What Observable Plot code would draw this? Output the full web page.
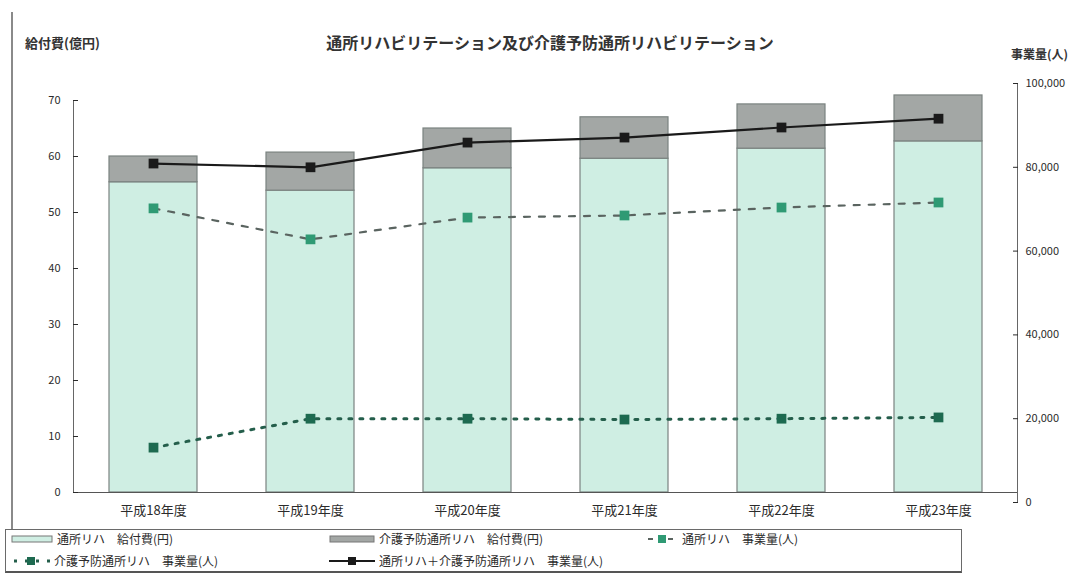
<!DOCTYPE html>
<html><head><meta charset="utf-8">
<script src="https://cdn.jsdelivr.net/npm/d3@7"></script>
<script src="https://cdn.jsdelivr.net/npm/@observablehq/plot@0.6"></script>
<style>
body{margin:0;background:#fff;font-family:"Noto Sans CJK JP","Noto Sans",sans-serif;}
#wrap{position:relative;width:1080px;height:581px;overflow:hidden;background:#fff;}
#wrap > svg{position:absolute;left:0;top:0;}
.t{position:absolute;white-space:nowrap;color:#2b2b2b;line-height:1;}
.lg{position:absolute;white-space:nowrap;font-size:12px;color:#2b2b2b;line-height:1;display:flex;align-items:center;gap:4px;}
</style></head><body><div id="wrap"></div>
<script>
// ---- data ----
const years = ["平成18年度","平成19年度","平成20年度","平成21年度","平成22年度","平成23年度"];
const seriesNames = ["通所リハ　給付費(円)","介護予防通所リハ　給付費(円)","通所リハ　事業量(人)","介護予防通所リハ　事業量(人)","通所リハ＋介護予防通所リハ　事業量(人)"];
const kyufuTsusho = [55.4, 53.9, 57.9, 59.6, 61.4, 62.7];   // 億円
const kyufuYobo   = [4.6, 6.8, 7.1, 7.4, 7.9, 8.2];        // 億円
const jigyoTsusho = [70200, 62800, 68000, 68500, 70400, 71600]; // 人
const jigyoYobo   = [13100, 20000, 20000, 19800, 20000, 20300]; // 人
const jigyoTotal  = [80900, 80000, 85900, 87100, 89500, 91600]; // 人
const leftTicks  = [0,10,20,30,40,50,60,70];
const rightTicks = [0,20000,40000,60000,80000,100000];
const titleText = "通所リハビリテーション及び介護予防通所リハビリテーション";
const leftAxisTitle = "給付費(億円)";
const rightAxisTitle = "事業量(人)";

// ---- colours ----
const cLight = "#cfeee3", cGray = "#a3a7a5", cTotal = "#1a1a1a";
const cTsushoLine = "#5a6460", cTsushoDot = "#2f9a74";
const cYoboLine = "#245e4b", cYoboDot = "#1d6a50";
const font = '"Noto Sans CJK JP","Noto Sans",sans-serif';

const barData = years.flatMap((y,i)=>[
  {year:y, series:seriesNames[0], value:kyufuTsusho[i]},
  {year:y, series:seriesNames[1], value:kyufuYobo[i]}
]);
const lineData = years.map((y,i)=>({year:y, tsusho:jigyoTsusho[i], yobo:jigyoYobo[i], total:jigyoTotal[i]}));

const wrap = document.getElementById("wrap");

const plotA = Plot.plot({
  width:1080, height:581, marginLeft:73, marginRight:63, marginTop:100, marginBottom:89,
  style:{background:"transparent", fontFamily:font, fontSize:"11px", color:"#2b2b2b", overflow:"visible"},
  x:{type:"band", domain:years, paddingInner:0.44, paddingOuter:0.22, label:null},
  y:{domain:[0,70], label:null},
  color:{domain:seriesNames.slice(0,2), range:[cLight,cGray]},
  marks:[
    Plot.barY(barData, {x:"year", y:"value", fill:"series", stroke:"#7b8380", strokeWidth:1.2}),
    Plot.ruleY([0], {stroke:"#555", strokeWidth:1.2}),
    Plot.frame({anchor:"left", stroke:"#666"}),
    Plot.axisY(leftTicks, {anchor:"left", tickSize:-5, tickPadding:18, fontSize:11, label:null}),
    Plot.axisX({anchor:"bottom", tickSize:0, tickPadding:13, fontSize:13, label:null})
  ]
});
wrap.appendChild(plotA);

const plotB = Plot.plot({
  width:1080, height:581, marginLeft:73, marginRight:63, marginTop:83, marginBottom:79,
  style:{background:"transparent", fontFamily:font, fontSize:"11px", color:"#2b2b2b", overflow:"visible"},
  x:{type:"point", domain:years, padding:0.5, axis:null},
  y:{domain:[0,100000], label:null},
  marks:[
    Plot.frame({anchor:"right", stroke:"#666"}),
    Plot.axisY(rightTicks, {anchor:"right", tickSize:-5, tickPadding:13, tickFormat:d3.format(","), fontSize:11, label:null}),
    Plot.line(lineData, {x:"year", y:"yobo", stroke:cYoboLine, strokeWidth:3, strokeDasharray:"3,8"}),
    Plot.dot(lineData, {x:"year", y:"yobo", symbol:"square", r:5.5, fill:cYoboDot}),
    Plot.line(lineData, {x:"year", y:"tsusho", stroke:cTsushoLine, strokeWidth:2.2, strokeDasharray:"6,9"}),
    Plot.dot(lineData, {x:"year", y:"tsusho", symbol:"square", r:5.5, fill:cTsushoDot}),
    Plot.line(lineData, {x:"year", y:"total", stroke:cTotal, strokeWidth:2.2}),
    Plot.dot(lineData, {x:"year", y:"total", symbol:"square", r:5.5, fill:cTotal})
  ]
});
plotB.style.pointerEvents = "none";
wrap.appendChild(plotB);

// ---- texts ----
function addText(txt, css){ const d=document.createElement("div"); d.className="t"; d.textContent=txt; Object.assign(d.style, css); wrap.appendChild(d); return d; }
addText(titleText, {left:"550px", top:"34px", transform:"translateX(-50%)", fontSize:"16px", fontWeight:"bold", color:"#333"});
addText(leftAxisTitle, {left:"25px", top:"36px", fontSize:"13px", fontWeight:"bold", color:"#333"});
addText(rightAxisTitle, {left:"1011px", top:"48px", fontSize:"12px", fontWeight:"bold", color:"#333"});

// outer frame line
const fr = document.createElement("div");
Object.assign(fr.style, {position:"absolute", left:"11px", top:"12px", width:"2px", height:"518px", background:"#8a8a8a"});
wrap.appendChild(fr);

// ---- legend ----
const box = document.createElement("div");
Object.assign(box.style, {position:"absolute", left:"5px", top:"529px", width:"957px", height:"44px", border:"1px solid #6a6a6a", borderBottom:"2px solid #555", boxSizing:"border-box"});
wrap.appendChild(box);
const sw = {
  light:`<svg width="42" height="10"><rect x="1" y="2" width="40" height="6" fill="${cLight}" stroke="#777"/></svg>`,
  gray:`<svg width="46" height="10"><rect x="1" y="2" width="44" height="6" fill="${cGray}" stroke="#777"/></svg>`,
  tsusho:`<svg width="30" height="12"><line x1="0" y1="6" x2="30" y2="6" stroke="${cTsushoLine}" stroke-width="2" stroke-dasharray="5,5"/><rect x="10" y="2" width="8" height="8" fill="${cTsushoDot}"/></svg>`,
  yobo:`<svg width="38" height="12"><line x1="2" y1="6" x2="38" y2="6" stroke="${cYoboLine}" stroke-width="3" stroke-dasharray="3,8"/><rect x="15" y="2" width="8" height="8" fill="${cYoboDot}"/></svg>`,
  total:`<svg width="46" height="12"><line x1="0" y1="6" x2="46" y2="6" stroke="${cTotal}" stroke-width="2.2"/><rect x="19" y="2" width="8" height="8" fill="${cTotal}"/></svg>`
};
function addLegend(svg, txt, x, y){ const d=document.createElement("div"); d.className="lg"; d.innerHTML=svg+`<span>${txt}</span>`; Object.assign(d.style,{left:x+"px", top:y+"px"}); wrap.appendChild(d); }
addLegend(sw.light, seriesNames[0], 11, 533);
addLegend(sw.gray, seriesNames[1], 329, 533);
addLegend(sw.tsusho, seriesNames[2], 648, 533);
addLegend(sw.yobo, seriesNames[3], 12, 555);
addLegend(sw.total, seriesNames[4], 329, 555);
</script></body></html>
